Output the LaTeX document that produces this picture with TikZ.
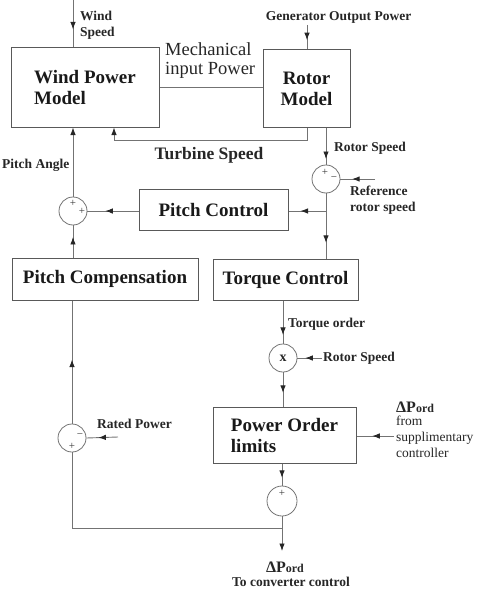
\documentclass[tikz,border=0pt]{standalone}
\usepackage{fontspec}
\setmainfont{Liberation Serif}
\usetikzlibrary{arrows.meta,decorations.markings}
\begin{document}
\begin{tikzpicture}[x=1pt,y=-1pt,
  conn/.style={color=black!55, line width=0.9pt},
  tipend/.style={-{Latex[length=7.5pt,width=5.5pt,color=black!85]}},
  arrowat/.style={postaction={decorate},decoration={markings,mark=at position #1 with {\arrow{Latex[length=7.5pt,width=5.5pt,color=black!85]}}}},
  box/.style={draw=black!65, line width=1pt, inner sep=0pt, text=black!90, font=\fontsize{19}{21}\selectfont\bfseries},
  sumnode/.style={circle, draw=black!55, line width=0.8pt, minimum size=28pt, inner sep=0pt},
  lbl/.style={inner sep=0pt, text=black!85, font=\fontsize{13.5}{16}\selectfont\bfseries},
  sgn/.style={inner sep=0pt, text=black!80, font=\fontsize{11}{11}\selectfont},
]
\useasboundingbox (0,0) rectangle (480,594);

% blocks
\node[box, minimum width=148pt, minimum height=79pt, align=left] (wpm) at (85,87.5) {Wind Power\\Model};
\node[box, minimum width=87pt, minimum height=77pt, align=center] (rm) at (306.5,88.5) {Rotor\\Model};
\node[box, minimum width=149pt, minimum height=41pt] (pc) at (213.5,209.5) {Pitch Control};
\node[box, minimum width=186pt, minimum height=42pt] (pcomp) at (105,279) {Pitch Compensation};
\node[box, minimum width=145pt, minimum height=41pt] (tc) at (285.5,279.5) {Torque Control};
\node[box, minimum width=143pt, minimum height=56pt, align=left] (pol) at (284.5,435) {Power Order\\limits};

% summing junctions
\node[sumnode] (s1) at (73,211) {};
\node[sumnode] (s2) at (326,179) {};
\node[sumnode, text=black!85, font=\fontsize{14}{14}\selectfont\bfseries] (sx) at (283,358) {x};
\node[sumnode] (s4) at (72,438) {};
\node[sumnode, minimum size=30pt] (s3) at (282,501) {};

% signs
\node[sgn] (s1a) at (73,203) {+};
\node[sgn] (s1b) at (82,211) {+};
\node[sgn] (s2a) at (325,172) {+};
\node[sgn] (s2b) at (334,179) {−};
\node[sgn] (s4a) at (80,436) {−};
\node[sgn] (s4b) at (72,446) {+};
\node[sgn] (s3a) at (282,493) {+};

% free ends
\coordinate (ws) at (73,0);
\coordinate (gop) at (307,25);
\coordinate (ts1) at (307,140);
\coordinate (ts2) at (114,140);
\coordinate (rrs) at (375,179);
\coordinate (j1) at (326,211);
\coordinate (rs2) at (322,358);
\coordinate (dps) at (394,436);
\coordinate (j2) at (282,528);
\coordinate (out) at (282,551);
\coordinate (rp) at (118,437);

% connectors
\draw[conn, arrowat=0.62] (ws) -- (ws |- wpm.north);
\draw[conn] (wpm.east) -- (wpm.east -| rm.west);
\draw[conn, arrowat=0.62] (gop) -- (gop |- rm.north);
\draw[conn, tipend] (ts1 |- rm.south) -- (ts1) -- (ts2) -- (ts2 |- wpm.south);
\draw[conn, tipend] (s1.north) -- (s1.north |- wpm.south);
\draw[conn, arrowat=0.85] (s2.north |- rm.south) -- (s2.north);
\draw[conn, arrowat=0.66] (rrs) -- (s2.east);
\draw[conn] (s2.south) -- (j1);
\draw[conn, arrowat=0.68] (j1) -- (j1 -| pc.east);
\draw[conn, arrowat=0.67] (j1) -- (j1 |- tc.north);
\draw[conn, arrowat=0.65] (pc.west |- s1) -- (s1.east);
\draw[conn, arrowat=0.64] (pcomp.north -| s1) -- (s1.south);
\draw[conn, arrowat=0.8] (tc.south -| sx) -- (sx.north);
\draw[conn, arrowat=0.68] (rs2) -- (sx.east);
\draw[conn, arrowat=0.6] (sx.south) -- (sx.south |- pol.north);
\draw[conn, arrowat=0.58] (dps) -- (dps -| pol.east);
\draw[conn, arrowat=0.65] (pol.south -| s3) -- (s3.north);
\draw[conn] (s3.south) -- (j2);
\draw[conn, tipend] (j2) -- (out);
\draw[conn] (j2) -- (j2 -| s4) -- (s4.south);
\draw[conn, arrowat=0.62] (rp) -- (s4.east);
\draw[conn, arrowat=0.52] (s4.north) -- (s4.north |- pcomp.south);

% labels
\node[lbl, align=left, anchor=west] (lws) at (80,25) {Wind\\Speed};
\node[lbl] (lgop) at (338.5,17) {Generator Output Power};
\node[inner sep=0pt, text=black!85, font=\fontsize{18.5}{19}\selectfont, anchor=west, align=left] (lmip) at (165,61) {Mechanical\\input Power};
\node[inner sep=0pt, text=black!85, font=\fontsize{17.5}{18}\selectfont\bfseries] (lts) at (209,155) {Turbine Speed};
\node[lbl, anchor=west] (lpa) at (2,165) {Pitch Angle};
\node[lbl, anchor=west] (lrs) at (334,148) {Rotor Speed};
\node[lbl, anchor=west, align=left] (lrrs) at (350,200) {Reference\\rotor speed};
\node[lbl, anchor=west] (lto) at (288,324.5) {Torque order};
\node[lbl, anchor=west] (lrs2) at (323,358) {Rotor Speed};
\node[lbl, anchor=west] (lrp) at (97,424) {Rated Power};
\node[lbl, anchor=west] (ldp1) at (396,407) {\fontsize{16}{16}\selectfont ΔP\fontsize{12}{12}\selectfont ord};
\node[inner sep=0pt, text=black!85, font=\fontsize{13.5}{16}\selectfont, anchor=north west, align=left] (ldp2) at (396,416) {from\\supplimentary\\controller};
\node[lbl] (lout1) at (285,567) {\fontsize{16}{16}\selectfont ΔP\fontsize{12}{12}\selectfont ord};
\node[lbl] (lout2) at (291,582) {To converter control};
\end{tikzpicture}
\end{document}
